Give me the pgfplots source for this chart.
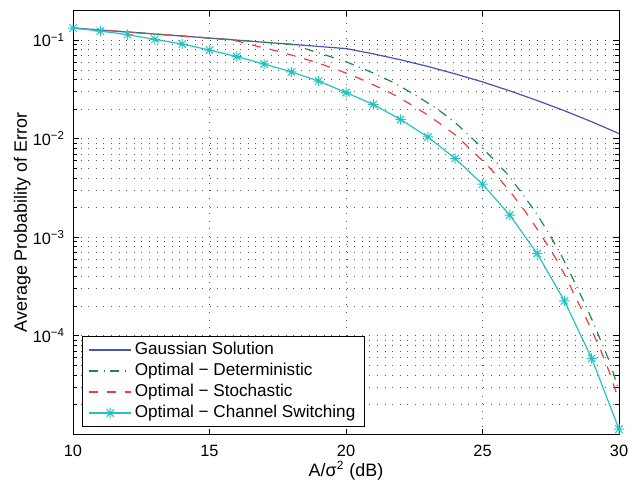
\documentclass[border=0pt]{standalone}
\usepackage{fontspec}
\setmainfont{Liberation Sans}
\usepackage{pgfplots}
\pgfplotsset{compat=1.18}

\definecolor{gsblue}{RGB}{68,86,178}
\definecolor{detgreen}{RGB}{30,138,70}
\definecolor{stored}{RGB}{240,62,62}
\definecolor{swcyan}{RGB}{38,194,194}

% matlab style '*' marker, 8 arms
\pgfdeclareplotmark{ast8}{%
  \pgfpathmoveto{\pgfqpoint{-\pgfplotmarksize}{0pt}}%
  \pgfpathlineto{\pgfqpoint{\pgfplotmarksize}{0pt}}%
  \pgfpathmoveto{\pgfqpoint{0pt}{-\pgfplotmarksize}}%
  \pgfpathlineto{\pgfqpoint{0pt}{\pgfplotmarksize}}%
  \pgfpathmoveto{\pgfqpoint{-0.707\pgfplotmarksize}{-0.707\pgfplotmarksize}}%
  \pgfpathlineto{\pgfqpoint{0.707\pgfplotmarksize}{0.707\pgfplotmarksize}}%
  \pgfpathmoveto{\pgfqpoint{-0.707\pgfplotmarksize}{0.707\pgfplotmarksize}}%
  \pgfpathlineto{\pgfqpoint{0.707\pgfplotmarksize}{-0.707\pgfplotmarksize}}%
  \pgfusepathqstroke}

\begin{document}
\begin{tikzpicture}[font=\fontsize{8.2}{9.8}\selectfont]
% page frame: axis box sits at (0,0)--(273bp,211.8bp)
\useasboundingbox (-36.5bp,-26bp) rectangle (282.5bp,217.15bp);
\begin{axis}[
    at={(0,0)}, anchor=south west,
    width=273bp, height=211.8bp, scale only axis,
    xmin=10, xmax=30,
    ymode=log, ymin=1e-5, ymax=0.2,
    xtick={10,15,20,25,30},
    xticklabels={10,15,20,25,30},
    ytick={1e-4,1e-3,1e-2,1e-1},
    yticklabels={10\textsuperscript{−4},10\textsuperscript{−3},10\textsuperscript{−2},10\textsuperscript{−1}},
    minor ytick={2e-5,3e-5,4e-5,5e-5,6e-5,7e-5,8e-5,9e-5,
                 2e-4,3e-4,4e-4,5e-4,6e-4,7e-4,8e-4,9e-4,
                 2e-3,3e-3,4e-3,5e-3,6e-3,7e-3,8e-3,9e-3,
                 2e-2,3e-2,4e-2,5e-2,6e-2,7e-2,8e-2,9e-2},
    tick pos=both, tick align=inside,
    major tick length=2.8bp, minor tick length=1.8bp,
    every tick/.style={black, line width=0.4bp},
    axis line style={black, line width=0.5bp},
    xmajorgrids, ymajorgrids, yminorgrids,
    major grid style={black!65, line width=0.4bp, dash pattern=on 0.4bp off 3.4bp},
    minor grid style={black!65, line width=0.4bp, dash pattern=on 0.4bp off 3.4bp},
    xticklabel style={yshift=-2bp},
    yticklabel style={xshift=-0.5bp},
    xlabel={A/σ\textsuperscript{2} (dB)},
    ylabel={Average Probability of Error},
    label style={font=\fontsize{9}{10.8}\selectfont},
    xlabel style={at={(axis description cs:0.5,-0.086)}, anchor=center},
    ylabel style={at={(axis description cs:-0.093,0.5)}, anchor=center},
    legend cell align=left,
    legend style={at={(0.016,0.018)}, anchor=south west, draw=black,
        line width=0.5bp, inner xsep=3.2bp, inner ysep=1.8bp, row sep=1bp,
        font=\fontsize{8.6}{10.3}\selectfont,
        nodes={inner xsep=1.5bp, inner ysep=0.6bp, text height=6.3bp, text depth=2bp}},
    legend image code/.code={%
        \draw[mark repeat=2, mark phase=2, #1]
        plot coordinates {(0bp,0bp) (10.5bp,0bp) (21bp,0bp)};},
]

% Gaussian solution
\addplot[gsblue, line width=0.6bp] coordinates {
(10,0.1333) (11,0.1272) (12,0.1215) (13,0.1159) (14,0.1105) (15,0.1055)
(16,0.1005) (17,0.0956) (18,0.0911) (19,0.0867) (20,0.0824) (21,0.0729)
(22,0.0634) (23,0.0543) (24,0.0456) (25,0.0378) (26,0.0307) (27,0.0245)
(28,0.0193) (29,0.0149) (30,0.01131)
};
\addlegendentry{Gaussian Solution}

% deterministic
\addplot[detgreen, line width=0.6bp, dash pattern=on 4.5bp off 2.8bp on 0.5bp off 2.8bp] coordinates {
(10,0.1333) (11,0.1272) (12,0.1215) (13,0.1159) (14,0.1105) (15,0.1055)
(16,0.1005) (17,0.0956) (18,0.0911) (18.44,0.0834) (19.26,0.0708)
(20.11,0.0590) (20.93,0.0474) (21.75,0.0372) (22.53,0.0279) (23.29,0.0206)
(24,0.01462) (24.64,0.0100) (25.27,0.00676) (25.89,0.00445) (26.44,0.00282)
(26.95,0.00179) (27.41,0.00112) (27.86,0.00068) (28.25,0.000413)
(28.64,0.000245) (29,0.000148) (29.35,0.000087) (29.68,0.0000525)
(29.93,0.0000316) (30,0.000028)
};
\addlegendentry{Optimal − Deterministic}

% stochastic
\addplot[stored, line width=0.6bp, dash pattern=on 4.5bp off 4.5bp] coordinates {
(10,0.1333) (11,0.1272) (12,0.1215) (13,0.1159) (14,0.1105) (15,0.1055)
(16,0.0985) (16.75,0.0869) (17.47,0.0779) (18.19,0.0685) (18.9,0.0598)
(19.6,0.0512) (20.28,0.0435) (20.94,0.036) (21.62,0.0294) (22.26,0.0233)
(22.89,0.0182) (23.49,0.0140) (24.11,0.0104) (24.6,0.0076) (25.15,0.0055)
(25.64,0.00386) (26.12,0.00266) (26.56,0.00184) (26.97,0.00125)
(27.37,0.000845) (27.7,0.0006) (28.08,0.000385) (28.41,0.000245)
(28.75,0.00016) (29.06,0.000105) (29.35,0.000069) (29.62,0.0000447)
(29.87,0.000028) (30,0.000022)
};
\addlegendentry{Optimal − Stochastic}

% channel switching
\addplot[swcyan, line width=0.6bp, mark=ast8, mark size=2.6bp,
    mark options={solid, line width=0.5bp}] coordinates {
(10,0.1333) (11,0.1242) (12,0.1142) (13,0.1023) (14,0.0917) (15,0.0797)
(16,0.0683) (17,0.0575) (18,0.0477) (19,0.0386) (20,0.0295) (21,0.0223)
(22,0.0157) (23,0.01045) (24,0.00631) (25,0.00346) (26,0.00168)
(27,0.000686) (28,0.000226) (29,0.000059) (30,0.0000113)
};
\addlegendentry{Optimal − Channel Switching}

\end{axis}
\end{tikzpicture}
\end{document}
